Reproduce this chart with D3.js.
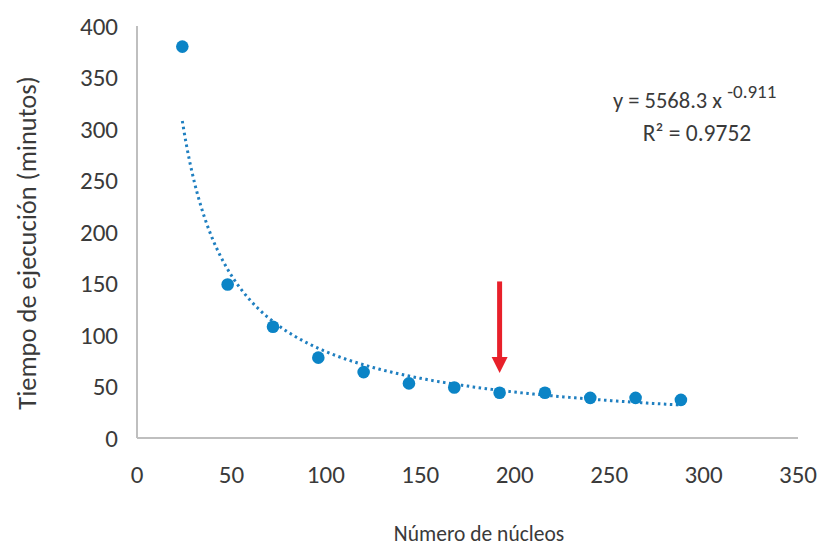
<!DOCTYPE html>
<html lang="es">
<head>
<meta charset="UTF-8">
<title>Tiempo de ejecución vs número de núcleos</title>
<script src="https://d3js.org/d3.v7.min.js"></script>
<style>
  body { margin: 0; background: #fff; }
  text { font-family: Carlito, "Open Sans", "Noto Sans", sans-serif; fill: #3a3a3a; }
</style>
</head>
<body>
<svg id="chart" width="821" height="548"></svg>
<script>
// data
const cores = [24, 48, 72, 96, 120, 144, 168, 192, 216, 240, 264, 288];
const minutes = [380, 149, 108, 78, 64, 53, 49, 44, 44, 39, 39, 37];
const xTicks = [0, 50, 100, 150, 200, 250, 300, 350];
const yTicks = [0, 50, 100, 150, 200, 250, 300, 350, 400];
// power trendline shown on the chart: y = 5568.3 x^-0.911
const fitCoef = 5568.3, fitExp = -0.911;
const arrowCore = 192, arrowFrom = 152, arrowTo = 63;

const svg = d3.select('#chart');
const x = d3.scaleLinear().domain([0, 350]).range([137, 798]);
const y = d3.scaleLinear().domain([0, 400]).range([438, 26]);

// axis lines
svg.append('line')
    .attr('x1', x(0)).attr('x2', x(0)).attr('y1', y(400)).attr('y2', y(0))
    .attr('stroke', '#bfbfbf').attr('stroke-width', 2);
svg.append('line')
    .attr('x1', x(0)).attr('x2', x(350)).attr('y1', y(0)).attr('y2', y(0))
    .attr('stroke', '#bfbfbf').attr('stroke-width', 2);

// tick labels
svg.selectAll('.xlab').data(xTicks).enter().append('text')
    .attr('class', 'xlab')
    .attr('x', d => x(d)).attr('y', 483)
    .attr('text-anchor', 'middle')
    .style('font-size', '25px')
    .text(d => d);

svg.selectAll('.ylab').data(yTicks).enter().append('text')
    .attr('class', 'ylab')
    .attr('x', 118).attr('y', d => y(d))
    .attr('dy', '0.35em')
    .attr('text-anchor', 'end')
    .style('font-size', '25px')
    .text(d => d);

// axis titles
svg.append('text')
    .attr('transform', 'translate(36,243) rotate(-90)')
    .attr('text-anchor', 'middle')
    .style('font-size', '26.5px')
    .text('Tiempo de ejecución (minutos)');

svg.append('text')
    .attr('x', 479).attr('y', 541)
    .attr('text-anchor', 'middle')
    .style('font-size', '21.5px')
    .text('Número de núcleos');

// trendline
const fitX = d3.range(cores[0], cores[cores.length - 1] + 0.5, 1);
const line = d3.line()
    .x(d => x(d))
    .y(d => y(fitCoef * Math.pow(d, fitExp)));
svg.append('path')
    .attr('d', line(fitX))
    .attr('fill', 'none')
    .attr('stroke', '#1f7fc0')
    .attr('stroke-width', 3)
    .attr('stroke-dasharray', '2.5,3.5');

// points
svg.selectAll('.pt').data(cores).enter().append('circle')
    .attr('class', 'pt')
    .attr('cx', d => x(d))
    .attr('cy', (d, i) => y(minutes[i]))
    .attr('r', 6.3)
    .attr('fill', '#0b84c6');

// red arrow
const ax = x(arrowCore);
svg.append('line')
    .attr('x1', ax).attr('x2', ax)
    .attr('y1', y(arrowFrom)).attr('y2', y(arrowTo) - 12)
    .attr('stroke', '#e8202a').attr('stroke-width', 5);
svg.append('path')
    .attr('d', `M${ax - 8},${y(arrowTo) - 16} L${ax + 8},${y(arrowTo) - 16} L${ax},${y(arrowTo)} Z`)
    .attr('fill', '#e8202a');

// equation
const eq = svg.append('text')
    .attr('x', 613).attr('y', 108)
    .style('font-size', '22.5px');
eq.append('tspan').text('y = 5568.3 x ');
eq.append('tspan').attr('dy', -10).style('font-size', '19px').text('-0.911');

svg.append('text')
    .attr('x', 697).attr('y', 141)
    .attr('text-anchor', 'middle')
    .style('font-size', '23.5px')
    .text('R² = 0.9752');
</script>
</body>
</html>
